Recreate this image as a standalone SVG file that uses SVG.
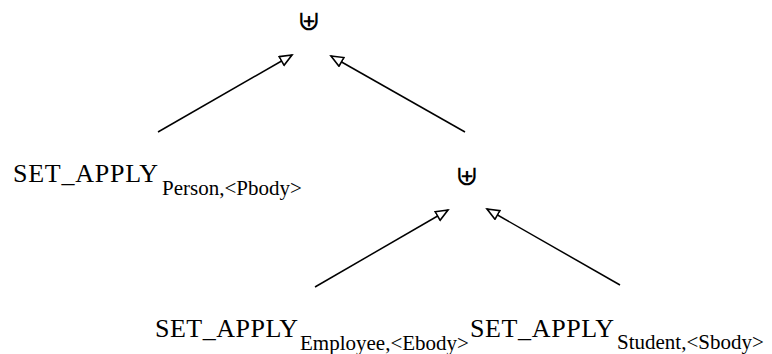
<svg xmlns="http://www.w3.org/2000/svg" width="772" height="354" viewBox="0 0 772 354">
<style>
.main{font-family:"Liberation Serif","Times New Roman",serif;font-size:26px;fill:#000}
.sub{font-family:"Liberation Serif","Times New Roman",serif;font-size:21px;fill:#000}
.op{font-family:"DejaVu Serif","DejaVu Sans",serif;font-size:28px;fill:#000;text-anchor:middle}
.edge{stroke:#000;stroke-width:1.5;fill:none;marker-end:url(#arr)}
</style>
<defs>
<marker id="arr" markerUnits="userSpaceOnUse" markerWidth="16" markerHeight="14" refX="13" refY="6" orient="auto">
<path d="M1,1 L13,6 L1,11 Z" fill="#fff" stroke="#000" stroke-width="1.6"/>
</marker>
</defs>
<rect width="772" height="354" fill="#fff"/>
<g id="edges">
<line class="edge" x1="158" y1="132" x2="292" y2="55"/>
<line class="edge" x1="465" y1="132" x2="331" y2="56"/>
<line class="edge" x1="315" y1="287" x2="448" y2="210"/>
<line class="edge" x1="620" y1="285" x2="487" y2="209"/>
</g>
<g id="union_top"><text class="op" x="309" y="30">⊎</text></g>
<g id="union_mid"><text class="op" x="467" y="185">⊎</text></g>
<g id="apply_person"><text class="main" x="13" y="182" textLength="145" lengthAdjust="spacing">SET_APPLY</text><text class="sub" x="162" y="195">Person,&lt;Pbody&gt;</text></g>
<g id="apply_employee"><text class="main" x="155" y="337" textLength="143" lengthAdjust="spacing">SET_APPLY</text><text class="sub" x="300" y="350">Employee,&lt;Ebody&gt;</text></g>
<g id="apply_student"><text class="main" x="470" y="337" textLength="144" lengthAdjust="spacing">SET_APPLY</text><text class="sub" x="617" y="349">Student,&lt;Sbody&gt;</text></g>
</svg>
